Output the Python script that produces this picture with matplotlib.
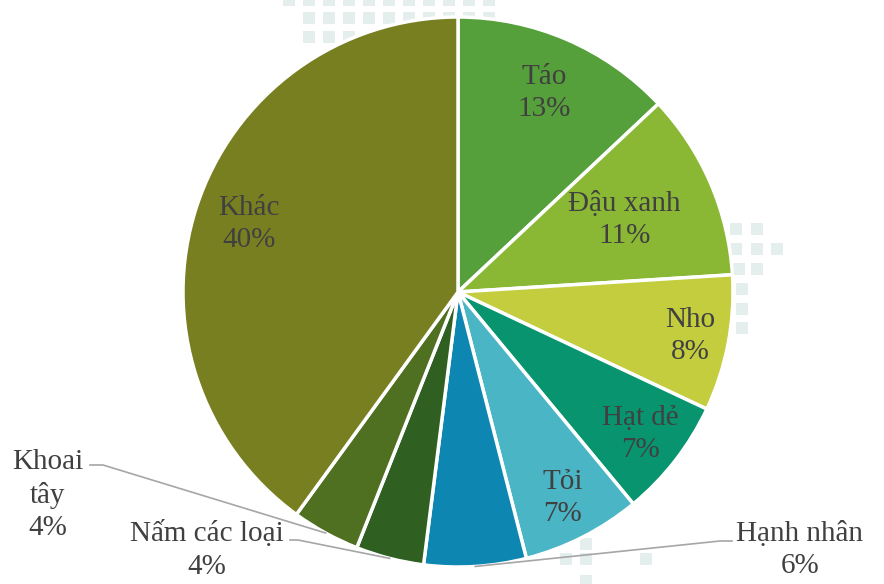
import numpy as np
import matplotlib.pyplot as plt
from matplotlib.patches import Rectangle

labels = ['Táo', 'Đậu xanh', 'Nho', 'Hạt dẻ', 'Tỏi', 'Hạnh nhân', 'Nấm các loại', 'Khoai tây', 'Khác']
shares = [13, 11, 8, 7, 7, 6, 4, 4, 40]
colors = ['#55a03b', '#8ab835', '#c3cd3d', '#07946f', '#4ab5c4', '#0d87b2', '#2f6022', '#4f6f21', '#787f21']

# inside labels: radius fraction from centre
inner_r = {'Táo': 0.79, 'Đậu xanh': 0.66, 'Nho': 0.86, 'Hạt dẻ': 0.84, 'Tỏi': 0.84, 'Khác': 0.80}
# outside labels: text position (pixels, y from top) and where the leader line starts
outer = {
    'Khoai tây': ((48, 495), (90, 465), (103, 465)),
    'Nấm các loại': ((207, 550), (290, 540), (298, 540)),
    'Hạnh nhân': ((800, 550), (732, 541), (720, 541)),
}

W, H = 884, 584
cx, cy, R = 458, 292, 275

fig = plt.figure(figsize=(W / 100, H / 100), dpi=100)
ax = fig.add_axes([0, 0, 1, 1])
ax.set_xlim(0, W)
ax.set_ylim(0, H)
ax.set_aspect('equal')
ax.axis('off')

# faint square pattern in the background
sq = '#e4eeed'
cells = []
for x in range(283, 500, 20):
    cells.append((x, -6))
for x in range(303, 485, 20):
    cells.append((x, 12))
for x in range(303, 350, 20):
    cells.append((x, 31))
for x, y in [(730, 223), (751, 223), (730, 243), (751, 243), (771, 243), (733, 263), (751, 263),
             (736, 283), (736, 303), (736, 322), (560, 553), (580, 553), (640, 553), (580, 575), (580, 538)]:
    cells.append((x, y))
for x, y in cells:
    ax.add_patch(Rectangle((x, H - y - 12), 12, 12, facecolor=sq, edgecolor='none', zorder=0))

wedges, _ = ax.pie(shares, colors=colors, startangle=90, counterclock=False,
                   center=(cx, cy), radius=R, frame=True,
                   wedgeprops=dict(edgecolor='white', linewidth=2.5))
ax.set_xlim(0, W)
ax.set_ylim(0, H)
ax.axis('off')

font = dict(family='Liberation Serif', fontsize=21, color='#404040', linespacing=1.3)

for w, lab, s in zip(wedges, labels, shares):
    mid = np.deg2rad((w.theta1 + w.theta2) / 2)
    txt = f'{lab}\n{s}%'
    if lab in inner_r:
        r = inner_r[lab] * R
        ax.text(cx + r * np.cos(mid), cy + r * np.sin(mid), txt, ha='center', va='center', **font)
    else:
        (tx, ty), p0, p1 = outer[lab]
        if lab == 'Khoai tây':
            txt = f'Khoai\ntây\n{s}%'
        ax.text(tx, H - ty, txt, ha='center', va='center', **font)
        ex, ey = cx + R * np.cos(mid), cy + R * np.sin(mid)
        ax.plot([p0[0], p1[0], ex], [H - p0[1], H - p1[1], ey], color='#a6a6a6', lw=1.2, zorder=1)

plt.savefig('out.png', dpi=100)
